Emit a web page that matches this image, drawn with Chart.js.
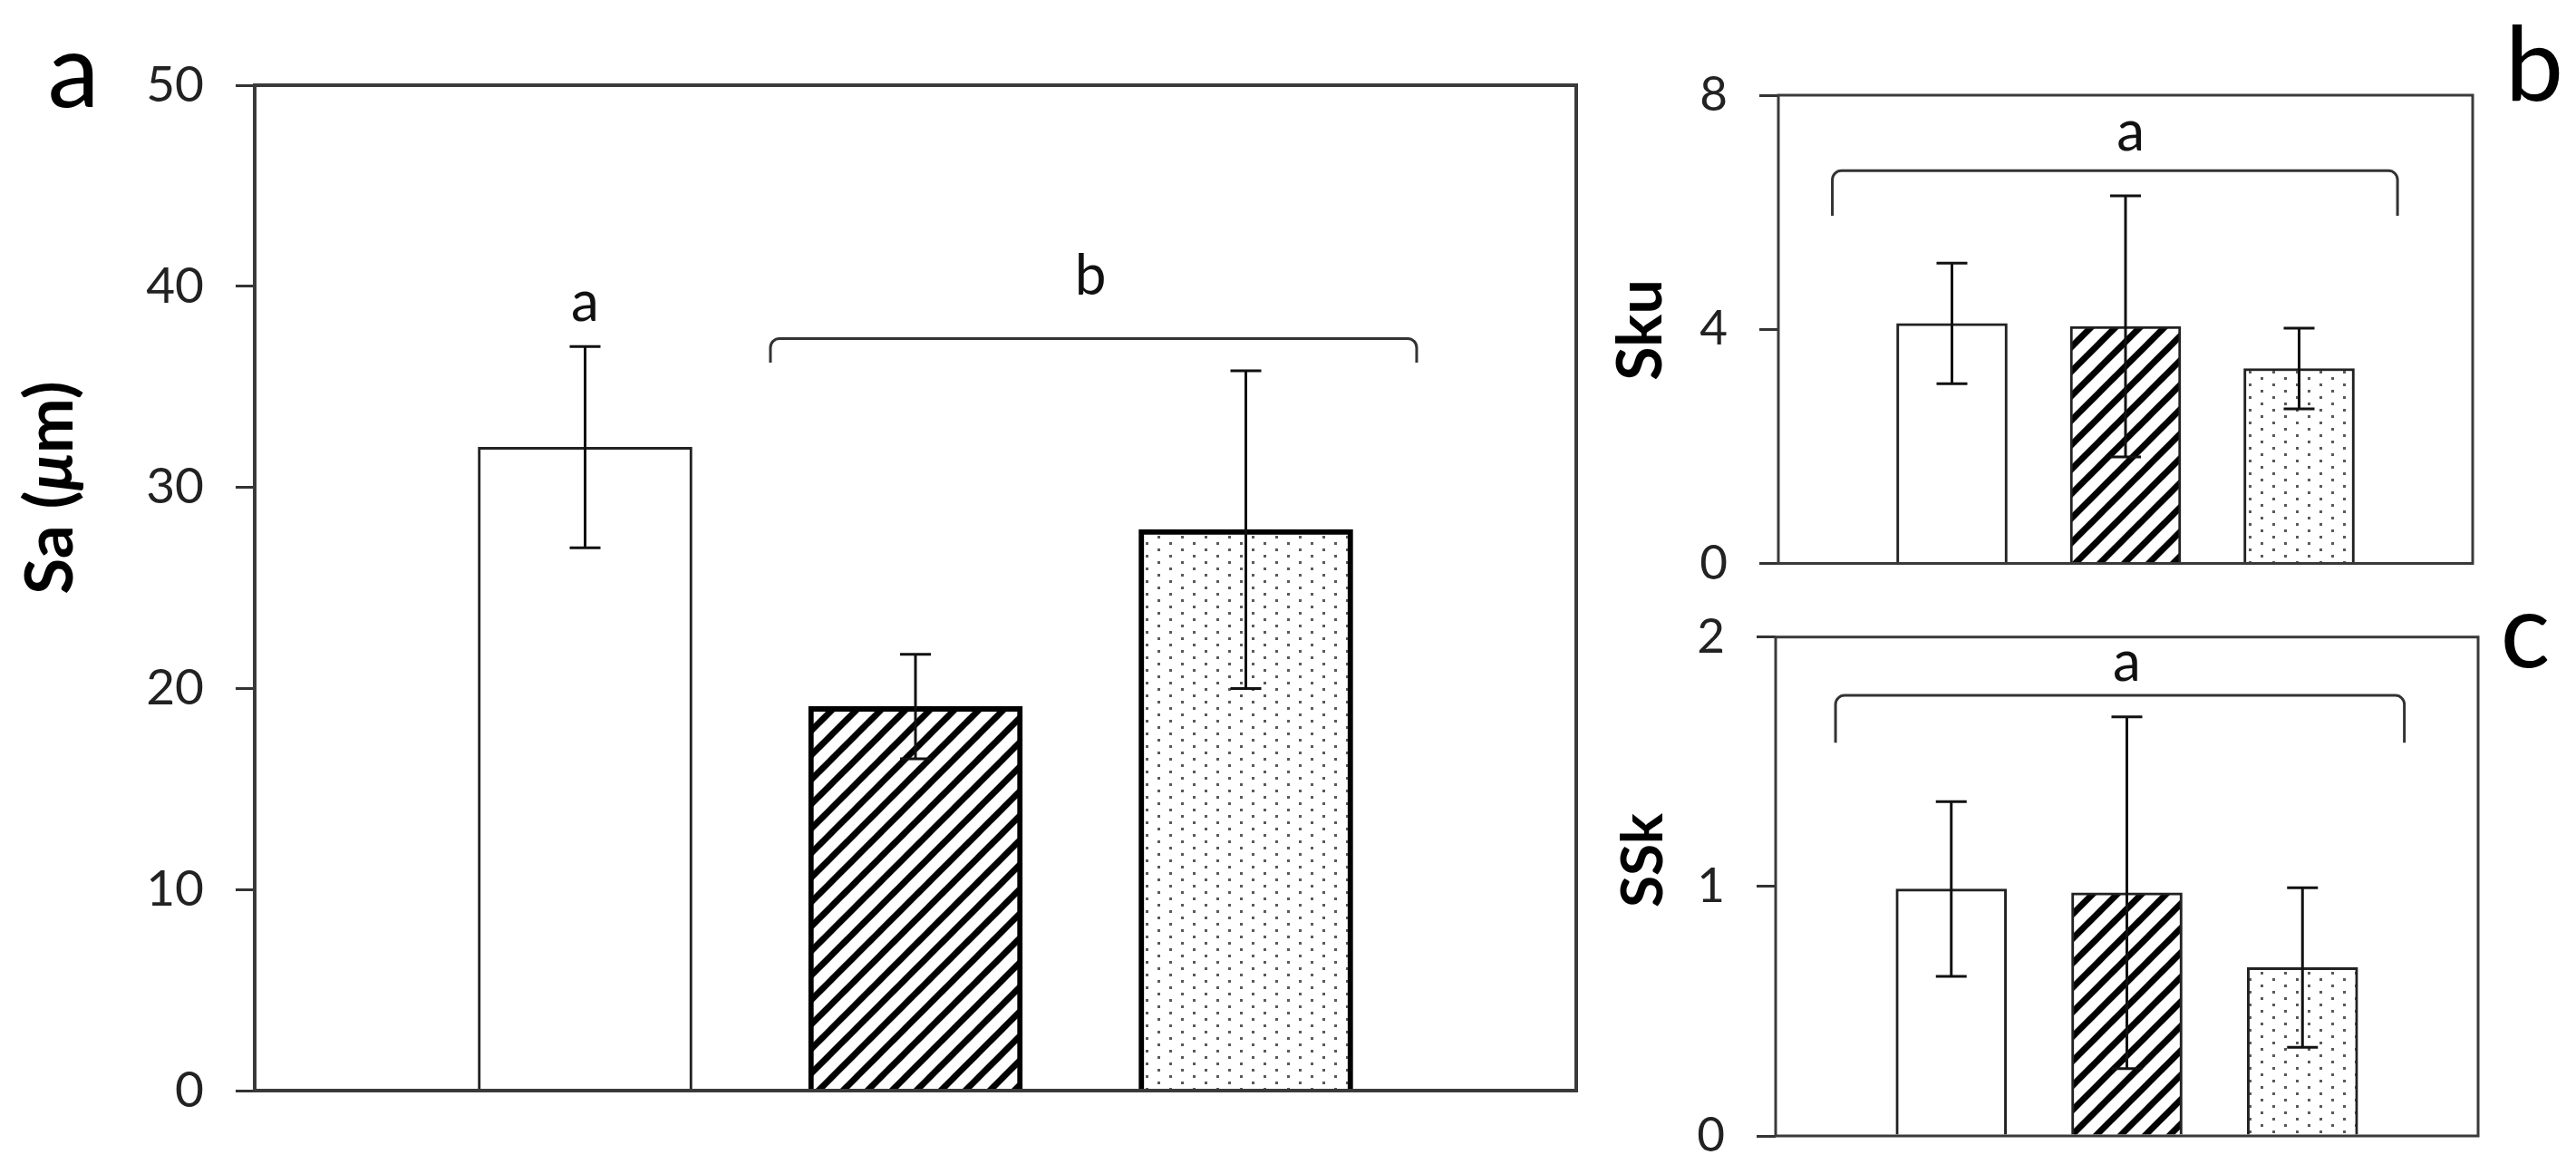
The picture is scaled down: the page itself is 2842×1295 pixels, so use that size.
<!DOCTYPE html>
<html>
<head>
<meta charset="utf-8">
<script src="https://cdn.jsdelivr.net/npm/chart.js@4.4.1/dist/chart.umd.min.js"></script>
<style>
  html, body { margin: 0; padding: 0; background: #ffffff; overflow: hidden; }
  #wrap { position: relative; width: 2842px; height: 1295px; overflow: hidden; background: #ffffff; }
  canvas { position: absolute; }
</style>
</head>
<body>
<div id="wrap">
  <canvas id="cA" width="1780" height="1295" style="left:0px;top:0px"></canvas>
  <canvas id="cB" width="1092" height="700" style="left:1750px;top:0px"></canvas>
  <canvas id="cC" width="1092" height="780" style="left:1750px;top:600px"></canvas>
</div>
<script>
// ---------------- data ----------------
const groupPositions = [1, 2, 3];

const saMean = [32.0, 19.1, 27.9];
const saErr  = [5.0, 2.6, 7.9];
const saTicks = [0, 10, 20, 30, 40, 50];

const skuMean = [4.10, 4.05, 3.33];
const skuErr  = [1.03, 2.23, 0.69];
const skuTicks = [0, 4, 8];

const sskMean = [0.99, 0.975, 0.675];
const sskErr  = [0.35, 0.705, 0.32];
const sskTicks = [0, 1, 2];

// ---------------- fill patterns ----------------
function hatchPattern(ctx) {
  const s = 27;
  const c = document.createElement('canvas');
  c.width = s; c.height = s;
  const g = c.getContext('2d');
  g.fillStyle = '#ffffff'; g.fillRect(0, 0, s, s);
  g.strokeStyle = '#000000'; g.lineWidth = 7; g.lineCap = 'square';
  for (let k = -1; k <= 1; k++) {
    g.beginPath(); g.moveTo(k * s, s); g.lineTo(k * s + s, 0); g.stroke();
  }
  return ctx.createPattern(c, 'repeat');
}
function dotPattern(ctx) {
  const w = 26, h = 14;
  const c = document.createElement('canvas');
  c.width = w; c.height = h;
  const g = c.getContext('2d');
  g.fillStyle = '#ffffff'; g.fillRect(0, 0, w, h);
  g.fillStyle = '#5a5a5a';
  g.fillRect(3, 3, 3, 3);
  g.fillRect(16, 10, 3, 3);
  return ctx.createPattern(c, 'repeat');
}

// ---------------- decoration plugin ----------------
function drawRotatedTitle(ctx, parts, bx, cy, size) {
  ctx.save();
  ctx.translate(bx, cy);
  ctx.rotate(-Math.PI / 2);
  const fonts = parts.map(p => (p.italic ? 'italic ' : '') + 'bold ' + size + 'px Lato');
  const widths = parts.map((p, i) => { ctx.font = fonts[i]; return ctx.measureText(p.text).width; });
  const total = widths.reduce((a, b) => a + b, 0);
  let x = -total / 2;
  ctx.textAlign = 'left'; ctx.textBaseline = 'alphabetic'; ctx.fillStyle = '#000000';
  parts.forEach((p, i) => { ctx.font = fonts[i]; ctx.fillText(p.text, x, 0); x += widths[i]; });
  ctx.restore();
}

function makeDecor(cfg) {
  return {
    id: 'decor',
    afterDatasetsDraw(chart) {
      const ctx = chart.ctx, ca = chart.chartArea;
      const xs = chart.scales.x, ys = chart.scales.y;
      ctx.save();
      // error bars
      ctx.strokeStyle = '#111111'; ctx.lineWidth = cfg.errWidth; ctx.lineCap = 'butt';
      cfg.means.forEach((m, i) => {
        const x = xs.getPixelForValue(groupPositions[i]);
        const y1 = ys.getPixelForValue(m + cfg.errs[i]);
        const y2 = ys.getPixelForValue(m - cfg.errs[i]);
        ctx.beginPath();
        ctx.moveTo(x, y1); ctx.lineTo(x, y2);
        ctx.moveTo(x - cfg.cap, y1); ctx.lineTo(x + cfg.cap, y1);
        ctx.moveTo(x - cfg.cap, y2); ctx.lineTo(x + cfg.cap, y2);
        ctx.stroke();
      });
      // frame
      ctx.strokeStyle = '#3a3a3a'; ctx.lineWidth = cfg.frameWidth;
      ctx.strokeRect(ca.left, ca.top, ca.right - ca.left, ca.bottom - ca.top);
      // brackets
      ctx.strokeStyle = '#333333'; ctx.lineWidth = 3; ctx.lineJoin = 'round';
      cfg.brackets.forEach(b => {
        const x1 = xs.getPixelForValue(b.x1), x2 = xs.getPixelForValue(b.x2);
        const y = ys.getPixelForValue(b.y), ye = ys.getPixelForValue(b.yEnd);
        const r = 10;
        ctx.beginPath();
        ctx.moveTo(x1, ye);
        ctx.arcTo(x1, y, x1 + r, y, r);
        ctx.arcTo(x2, y, x2, y + r, r);
        ctx.lineTo(x2, ye);
        ctx.stroke();
      });
      // significance letters
      ctx.fillStyle = '#111111'; ctx.textAlign = 'center'; ctx.textBaseline = 'alphabetic';
      ctx.font = cfg.sigSize + 'px Lato';
      cfg.letters.forEach(l => {
        ctx.fillText(l.text, xs.getPixelForValue(l.x), ys.getPixelForValue(l.y));
      });
      // panel label
      ctx.font = '115px Lato';
      ctx.fillStyle = '#000000';
      ctx.fillText(cfg.panel.text, cfg.panel.x, cfg.panel.y);
      ctx.restore();
      // axis title
      drawRotatedTitle(ctx, cfg.title.parts, cfg.title.x, cfg.title.y, cfg.title.size);
    }
  };
}

// ---------------- chart factory ----------------
function makeChart(canvasId, means, ticks, opt, decor) {
  const el = document.getElementById(canvasId);
  const ctx = el.getContext('2d');
  const fills = ['#ffffff', hatchPattern(ctx), dotPattern(ctx)];
  return new Chart(ctx, {
    type: 'bar',
    data: {
      datasets: [{
        data: groupPositions.map((x, i) => ({ x: x, y: means[i] })),
        backgroundColor: fills,
        borderColor: opt.borderColors,
        borderWidth: opt.borderWidths,
        barThickness: opt.barThickness
      }]
    },
    options: {
      responsive: false,
      maintainAspectRatio: false,
      animation: false,
      events: [],
      layout: { padding: opt.padding },
      plugins: { legend: { display: false }, tooltip: { enabled: false }, title: { display: false } },
      scales: {
        x: { type: 'linear', min: 0, max: 4, offset: false, display: false },
        y: {
          type: 'linear',
          min: ticks[0], max: ticks[ticks.length - 1],
          afterBuildTicks: s => { s.ticks = ticks.map(v => ({ value: v })); },
          afterFit: s => { s.width = opt.axisWidth; },
          border: { display: false },
          grid: { display: true, drawOnChartArea: false, drawTicks: true, tickLength: 21, lineWidth: 3, color: '#333333' },
          ticks: { font: { family: 'Lato', size: opt.tickSize }, color: '#222222', padding: 35 }
        }
      }
    },
    plugins: [makeDecor(decor)]
  });
}

// Panel a : Sa
makeChart('cA', saMean, saTicks, {
  borderColors: ['#222222', '#000000', '#000000'],
  borderWidths: [3, 6, 6],
  barThickness: 236,
  padding: { left: 0, top: 94, right: 41, bottom: 92 },
  axisWidth: 281,
  tickSize: 55
}, {
  means: saMean, errs: saErr, errWidth: 3, cap: 17, frameWidth: 4, sigSize: 62,
  brackets: [{ x1: 1.561, x2: 3.517, y: 37.4, yEnd: 36.2 }],
  letters: [{ text: 'a', x: 1.0, y: 38.3 }, { text: 'b', x: 2.53, y: 39.6 }],
  panel: { text: 'a', x: 81, y: 118 },
  title: { parts: [{ text: 'Sa (' }, { text: 'μ', italic: true }, { text: 'm)' }], x: 80, y: 538, size: 73 }
});

// Panel b : Sku
makeChart('cB', skuMean, skuTicks, {
  borderColors: ['#222222', '#222222', '#222222'],
  borderWidths: [3, 3, 3],
  barThickness: 122,
  padding: { left: 0, top: 105, right: 114, bottom: 78.5 },
  axisWidth: 212,
  tickSize: 53
}, {
  means: skuMean, errs: skuErr, errWidth: 3, cap: 17, frameWidth: 3, sigSize: 62,
  brackets: [{ x1: 0.311, x2: 3.567, y: 6.71, yEnd: 5.94 }],
  letters: [{ text: 'a', x: 2.03, y: 7.06 }],
  panel: { text: 'b', x: 1046, y: 111 },
  title: { parts: [{ text: 'Sku' }], x: 83, y: 364, size: 68 }
});

// Panel c : SSk
makeChart('cC', sskMean, sskTicks, {
  borderColors: ['#222222', '#222222', '#222222'],
  borderWidths: [3, 3, 3],
  barThickness: 122,
  padding: { left: 0, top: 102.7, right: 108, bottom: 127 },
  axisWidth: 209,
  tickSize: 53
}, {
  means: sskMean, errs: sskErr, errWidth: 3, cap: 17, frameWidth: 3, sigSize: 62,
  brackets: [{ x1: 0.341, x2: 3.58, y: 1.766, yEnd: 1.576 }],
  letters: [{ text: 'a', x: 2.0, y: 1.825 }],
  panel: { text: 'c', x: 1036, y: 136 },
  title: { parts: [{ text: 'SSk' }], x: 84, y: 349, size: 64 }
});
</script>
</body>
</html>
